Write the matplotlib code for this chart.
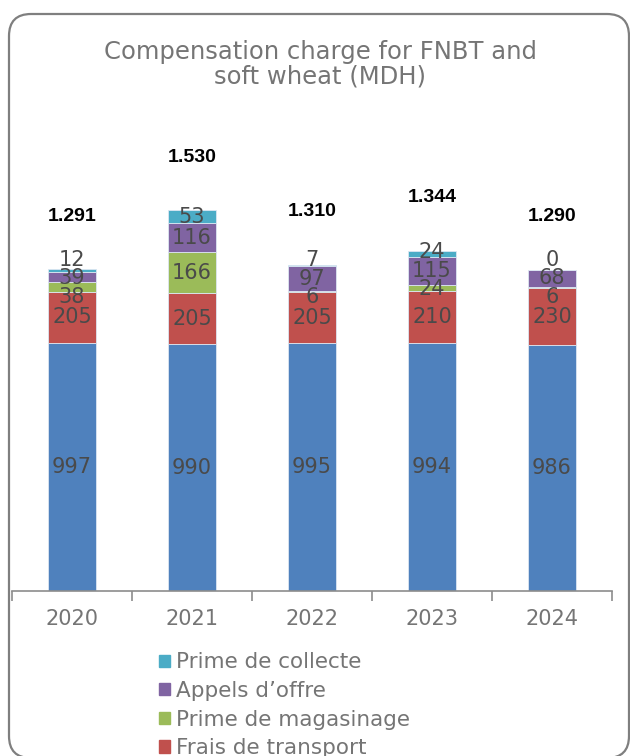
import matplotlib
matplotlib.use('Agg')
import matplotlib.pyplot as plt
from matplotlib.patches import FancyBboxPatch, Patch
import numpy as np

# values in MDH
years = ['2020', '2021', '2022', '2023', '2024']
base = [997, 990, 995, 994, 986]          # blue series (legend entry cut off)
transport = [205, 205, 205, 210, 230]     # Frais de transport
magasinage = [38, 166, 6, 24, 6]          # Prime de magasinage
appels = [39, 116, 97, 115, 68]           # Appels d'offre
collecte = [12, 53, 7, 24, 0]             # Prime de collecte
totals = ['1.291', '1.530', '1.310', '1.344', '1.290']

series = [
    ('Base', base, '#4F81BD'),
    ('Frais de transport', transport, '#C0504D'),
    ('Prime de magasinage', magasinage, '#9BBB59'),
    ('Appels d\u2019offre', appels, '#8064A2'),
    ('Prime de collecte', collecte, '#4BACC6'),
]

plt.rcParams['font.family'] = ['DejaVu Sans']
grey = '#757575'

fig = plt.figure(figsize=(6.3, 7.56), dpi=100)
ax = fig.add_axes([12 / 630, 165 / 756, 600 / 630, 0.593])

x = np.arange(len(years))
bottom = np.zeros(len(years))
centers = []
for name, vals, color in series:
    vals = np.array(vals, dtype=float)
    ax.bar(x, vals, 0.4, bottom=bottom, color=color, edgecolor='#dce6f2',
           linewidth=0.6, label=name, zorder=2)
    centers.append(bottom + vals / 2)
    bottom = bottom + vals


def spread(pos, gap):
    # merge overlapping labels into evenly spaced clusters
    clusters = [[p] for p in pos]
    changed = True
    while changed:
        changed = False
        for i in range(len(clusters) - 1):
            a, b = clusters[i], clusters[i + 1]
            ma = np.mean(a) + (len(a) - 1) / 2 * gap
            mb = np.mean(b) - (len(b) - 1) / 2 * gap
            if mb - ma < gap:
                clusters[i] = a + b
                del clusters[i + 1]
                changed = True
                break
    out = []
    for c in clusters:
        m = np.mean(c)
        n = len(c)
        out += [m + (k - (n - 1) / 2) * gap for k in range(n)]
    return out


for j in range(len(years)):
    vals = [s[1][j] for s in series]
    ys = [centers[0][j]] + spread([centers[k][j] for k in range(1, 5)], 74)
    for v, y in zip(vals, ys):
        ax.text(x[j], y, str(v), ha='center', va='center', fontsize=15,
                color='#4a4a4a', zorder=3)
    ax.annotate(totals[j], (x[j], bottom[j]), xytext=(0, 38),
                textcoords='offset points', ha='center', va='center',
                fontsize=14, fontweight='bold', color='black',
                family='Liberation Sans')

ax.set_xlim(-0.5, len(years) - 0.5)
ax.set_ylim(0, 1800)
ax.set_yticks([])
for s in ['top', 'right', 'left']:
    ax.spines[s].set_visible(False)
ax.spines['bottom'].set_color('#8c8c8c')
ax.spines['bottom'].set_linewidth(1.2)
ax.set_xticks(x)
ax.set_xticklabels(years, fontsize=15, color=grey)
ax.tick_params(axis='x', length=0, pad=13)
ax.set_xticks(np.arange(-0.5, len(years)), minor=True)
ax.tick_params(axis='x', which='minor', length=7, color='#8c8c8c', width=1.2)

fig.text(0.508, 1 - 40 / 756, 'Compensation charge for FNBT and\nsoft wheat (MDH)',
         ha='center', va='top', fontsize=17.5, color=grey, linespacing=1.05)

handles = [Patch(color=c, label=n) for n, _, c in series[::-1][:4]]
fig.legend(handles=handles, loc='upper left', bbox_to_anchor=(140 / 630, 1 - 633 / 756),
           frameon=False, labelcolor=grey, handlelength=0.5,
           handleheight=0.5, handletextpad=0.25, labelspacing=0.4,
           prop={'size': 15.5})

box = FancyBboxPatch((9 / 630, -2 / 756), 620 / 630, (756 - 12) / 756,
                     boxstyle='round,pad=0,rounding_size=0.035',
                     transform=fig.transFigure, facecolor='none',
                     edgecolor='#7f7f7f', linewidth=1.6, mutation_aspect=630 / 756)
fig.patches.append(box)

fig.savefig('out.png', dpi=100)
